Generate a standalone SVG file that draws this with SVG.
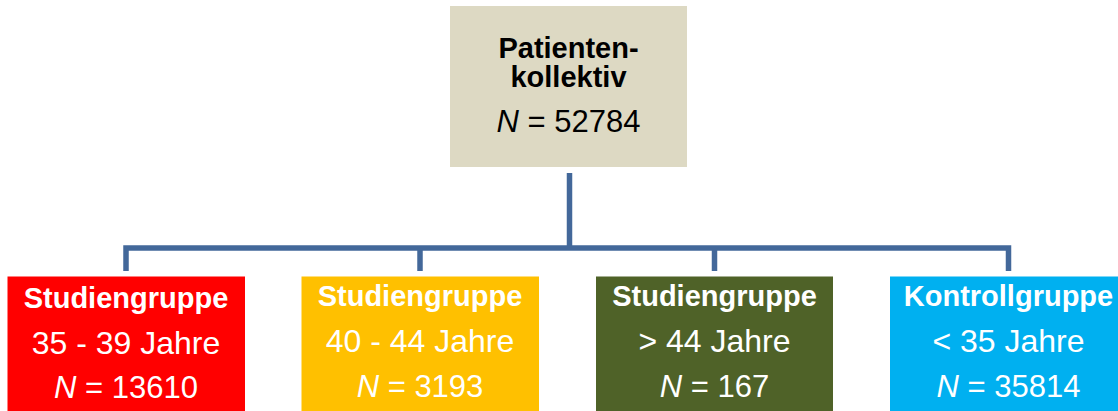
<svg xmlns="http://www.w3.org/2000/svg" width="1118" height="411" viewBox="0 0 1118 411">
  <style>
    text { font-family: "Liberation Sans", Arial, sans-serif; text-anchor: middle; }
    .b { font-weight: bold; font-size: 29px; }
    .r { font-size: 32px; }
    .n { font-size: 31px; }
    .i { font-style: italic; }
    .w { fill: #FFFFFF; }
    .k { fill: #000000; }
    .conn { fill: none; stroke: #43689A; stroke-width: 5.5; stroke-linejoin: miter; }
  </style>
  <rect width="1118" height="411" fill="#FFFFFF"/>
  <g id="connectors">
    <path class="conn" d="M569.5,173 V248"/>
    <path class="conn" d="M126,271 V248 H1008.5 V271"/>
    <path class="conn" d="M420,248 V271"/>
    <path class="conn" d="M714.5,248 V271"/>
  </g>
  <g id="patientenkollektiv">
    <rect x="450" y="6" width="237" height="161" fill="#DDD9C3"/>
    <text class="b k" x="568.5" y="58">Patienten-</text>
    <text class="b k" x="568.5" y="87">kollektiv</text>
    <text class="n k" x="568.5" y="132"><tspan class="i">N</tspan> = 52784</text>
  </g>
  <g id="studiengruppe-35-39">
    <rect x="7.5" y="276.5" width="237.5" height="140" fill="#FF0000"/>
    <text class="b w" x="126" y="308">Studiengruppe</text>
    <text class="r w" x="126" y="354">35 - 39 Jahre</text>
    <text class="n w" x="126" y="398"><tspan class="i">N</tspan> = 13610</text>
  </g>
  <g id="studiengruppe-40-44">
    <rect x="301.5" y="276.5" width="237.5" height="140" fill="#FFC000"/>
    <text class="b w" x="420" y="306">Studiengruppe</text>
    <text class="r w" x="420" y="352">40 - 44 Jahre</text>
    <text class="n w" x="420" y="397"><tspan class="i">N</tspan> = 3193</text>
  </g>
  <g id="studiengruppe-ueber-44">
    <rect x="596" y="276.5" width="237" height="140" fill="#4F6228"/>
    <text class="b w" x="714.5" y="306">Studiengruppe</text>
    <text class="r w" x="714.5" y="352">&gt; 44 Jahre</text>
    <text class="n w" x="714.5" y="397"><tspan class="i">N</tspan> = 167</text>
  </g>
  <g id="kontrollgruppe">
    <rect x="890" y="276.5" width="237" height="140" fill="#00B0F0"/>
    <text class="b w" x="1008.5" y="306">Kontrollgruppe</text>
    <text class="r w" x="1008.5" y="352">&lt; 35 Jahre</text>
    <text class="n w" x="1008.5" y="397"><tspan class="i">N</tspan> = 35814</text>
  </g>
</svg>
